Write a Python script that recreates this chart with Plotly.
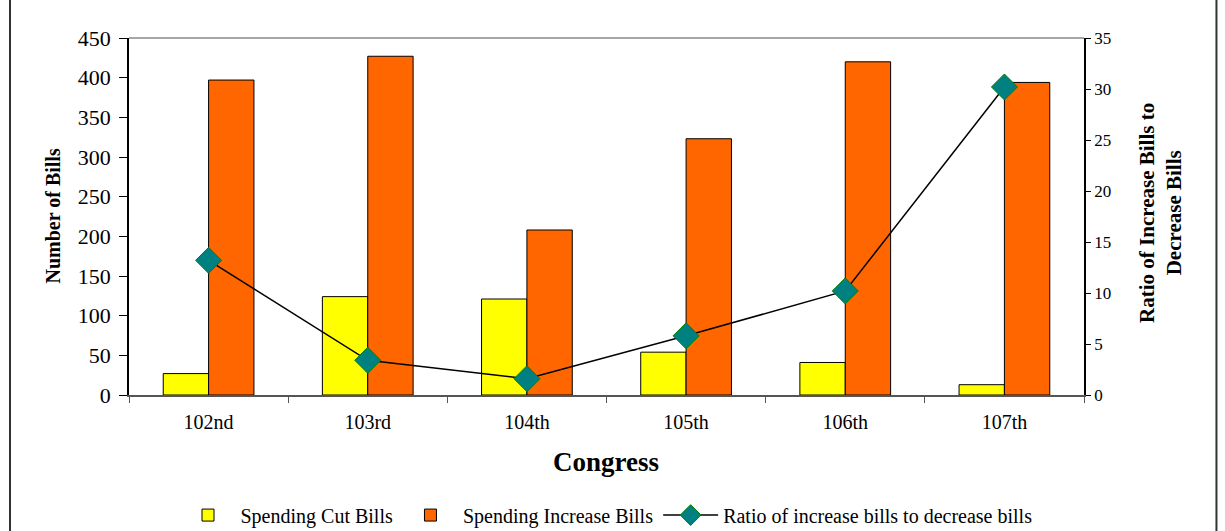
import plotly.graph_objects as go

congress = ["102nd", "103rd", "104th", "105th", "106th", "107th"]
cut_bills = [27, 124, 121, 54, 41, 13]
increase_bills = [397, 427, 208, 323, 420, 394]
ratio = [13.2, 3.4, 1.6, 5.8, 10.2, 30.2]

serif = "Liberation Serif, Times New Roman, serif"

fig = go.Figure()
fig.add_trace(go.Bar(
    x=congress, y=cut_bills, name="Spending Cut Bills",
    marker=dict(color="#FFFF00", line=dict(color="#000000", width=1)),
))
fig.add_trace(go.Bar(
    x=congress, y=increase_bills, name="Spending Increase Bills",
    marker=dict(color="#FF6600", line=dict(color="#000000", width=1)),
))
fig.add_trace(go.Scatter(
    x=congress, y=ratio, name="Ratio of increase bills to decrease bills",
    yaxis="y2", mode="lines+markers",
    line=dict(color="#000000", width=1.5),
    marker=dict(symbol="diamond", size=20, color="#008080",
                line=dict(color="#008000", width=1)),
))

fig.update_layout(
    width=1225, height=531,
    margin=dict(l=129, r=141, t=38, b=136, autoexpand=False),
    paper_bgcolor="white", plot_bgcolor="white",
    barmode="group", bargap=0.43, bargroupgap=0,
    font=dict(family=serif, color="#000000"),
    showlegend=True,
    legend=dict(orientation="h", x=0.5, xanchor="center",
                yref="container", y=0.03, yanchor="middle",
                font=dict(size=20, family=serif), traceorder="normal",
                bgcolor="rgba(0,0,0,0)", itemwidth=55, tracegroupgap=0),
    xaxis=dict(
        showline=True, linecolor="#555555", linewidth=2,
        ticks="outside", tickson="boundaries", ticklen=6, tickcolor="#555555",
        tickfont=dict(size=20, family=serif), showgrid=False,
        ticklabelstandoff=8, automargin=False,
    ),
    yaxis=dict(
        range=[0, 450], dtick=50, showline=True, linecolor="#000000", linewidth=1.5,
        ticks="outside", ticklen=8, tickcolor="#000000",
        tickfont=dict(size=22, family=serif), showgrid=False, zeroline=False,
        ticklabelstandoff=4, automargin=False,
    ),
    yaxis2=dict(
        range=[0, 35], dtick=5, overlaying="y", side="right",
        showline=True, linecolor="#000000", linewidth=1.5,
        ticks="outside", ticklen=5, tickcolor="#000000",
        tickfont=dict(size=17, family=serif), showgrid=False, zeroline=False,
        automargin=False,
    ),
    shapes=[
        dict(type="line", xref="paper", yref="paper", x0=0, x1=1, y0=1, y1=1,
             line=dict(color="#888888", width=1.5)),
        dict(type="rect", xref="paper", yref="paper", x0=-0.1246, x1=1.1387,
             y0=-0.45, y1=1.15, line=dict(color="#333333", width=2)),
    ],
    annotations=[
        dict(text="<b>Number of Bills</b>", xref="paper", yref="paper",
             x=-0.0806, y=0.5, textangle=-90, showarrow=False,
             font=dict(size=20, family=serif), xanchor="center", yanchor="middle"),
        dict(text="<b>Ratio of Increase Bills to<br>Decrease Bills</b>", xref="paper", yref="paper",
             x=1.0806, y=0.51, textangle=-90, showarrow=False,
             font=dict(size=21, family=serif), xanchor="center", yanchor="middle"),
        dict(text="<b>Congress</b>", xref="paper", yref="paper",
             x=0.4995, y=-0.1877, showarrow=False,
             font=dict(size=27, family=serif), xanchor="center", yanchor="middle"),
    ],
)

fig.write_html("out.html")
